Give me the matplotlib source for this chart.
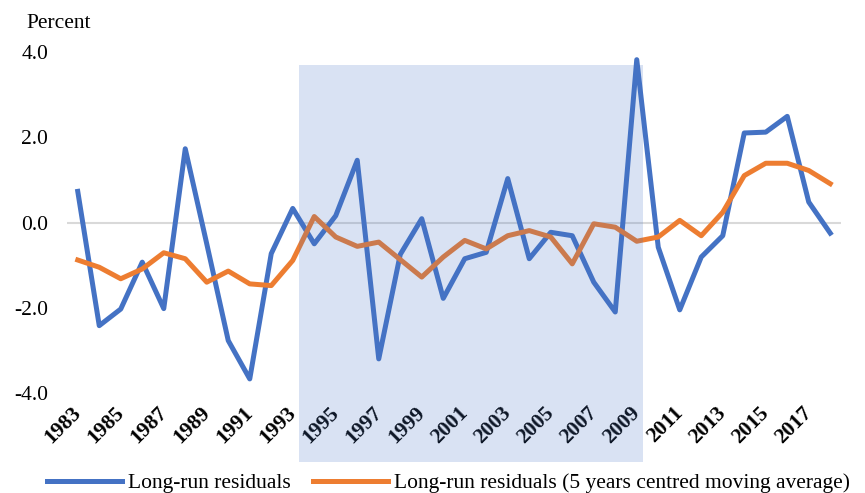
import matplotlib
matplotlib.use("Agg")
import matplotlib.pyplot as plt

# data
years = list(range(1983, 2019))
residuals = [0.73, -2.42, -2.03, -0.93, -2.02, 1.73, -0.5, -2.77, -3.67, -0.73,
             0.33, -0.5, 0.16, 1.46, -3.2, -0.75, 0.09, -1.78, -0.85, -0.70,
             1.03, -0.85, -0.23, -0.31, -1.40, -2.1, 3.82, -0.58, -2.05, -0.81,
             -0.31, 2.10, 2.12, 2.49, 0.48, -0.25]
moving_avg = [-0.88, -1.05, -1.32, -1.09, -0.71, -0.85, -1.40, -1.14, -1.44, -1.48,
              -0.89, 0.14, -0.34, -0.56, -0.46, -0.87, -1.28, -0.81, -0.42, -0.62,
              -0.31, -0.19, -0.34, -0.97, -0.03, -0.11, -0.44, -0.34, 0.05, -0.31,
              0.24, 1.10, 1.39, 1.39, 1.22, 0.91]
tick_years = list(range(1983, 2018, 2))
y_ticks = [-4.0, -2.0, 0.0, 2.0, 4.0]

# shaded period
shade_start, shade_end = 1993.3, 2009.3

plt.rcParams['font.family'] = ['Liberation Serif', 'DejaVu Serif']
fs = 15.5

fig = plt.figure(figsize=(8.65, 4.93), dpi=100)
ax = fig.add_axes([67/865, 100/493, 774/865, 341/493])

blue = '#4472C4'
orange = '#ED7D31'

ax.axhline(0, color='#D9D9D9', lw=1.5, zorder=1)
ax.plot(years, residuals, color=blue, lw=3.6, solid_joinstyle='round',
        label='Long-run residuals', zorder=3)
ax.plot(years, moving_avg, color=orange, lw=3.6, solid_joinstyle='round',
        label='Long-run residuals (5 years centred moving average)', zorder=3)

# translucent overlay, drawn over the lines and reaching below the axis
ax.axvspan(shade_start, shade_end, ymin=-0.202, ymax=(3.7 + 4) / 8,
           color=blue, alpha=0.2, lw=0, clip_on=False, zorder=5)

ax.set_xlim(1982.5, 2018.5)
ax.set_ylim(-4, 4)
ax.set_yticks(y_ticks)
ax.set_yticklabels([f"{v:.1f}" for v in y_ticks], fontsize=fs)
ax.set_xticks(tick_years)
ax.set_xticklabels([str(y) for y in tick_years], rotation=45, ha='right',
                   va='center', rotation_mode='anchor', fontsize=fs,
                   fontweight='bold')
ax.tick_params(axis='y', length=0, pad=13.5)
ax.tick_params(axis='x', length=0, pad=12)
for s in ax.spines.values():
    s.set_visible(False)

fig.text(26/865, 1 - 23/493, 'Percent', fontsize=fs, va='center', ha='left')

fig.legend(loc='center', bbox_to_anchor=(0.5185, 10/493), ncol=2, frameon=False,
           fontsize=fs, handlelength=3.5, handletextpad=0.3, columnspacing=1.0)

plt.savefig('out.png', dpi=100)
